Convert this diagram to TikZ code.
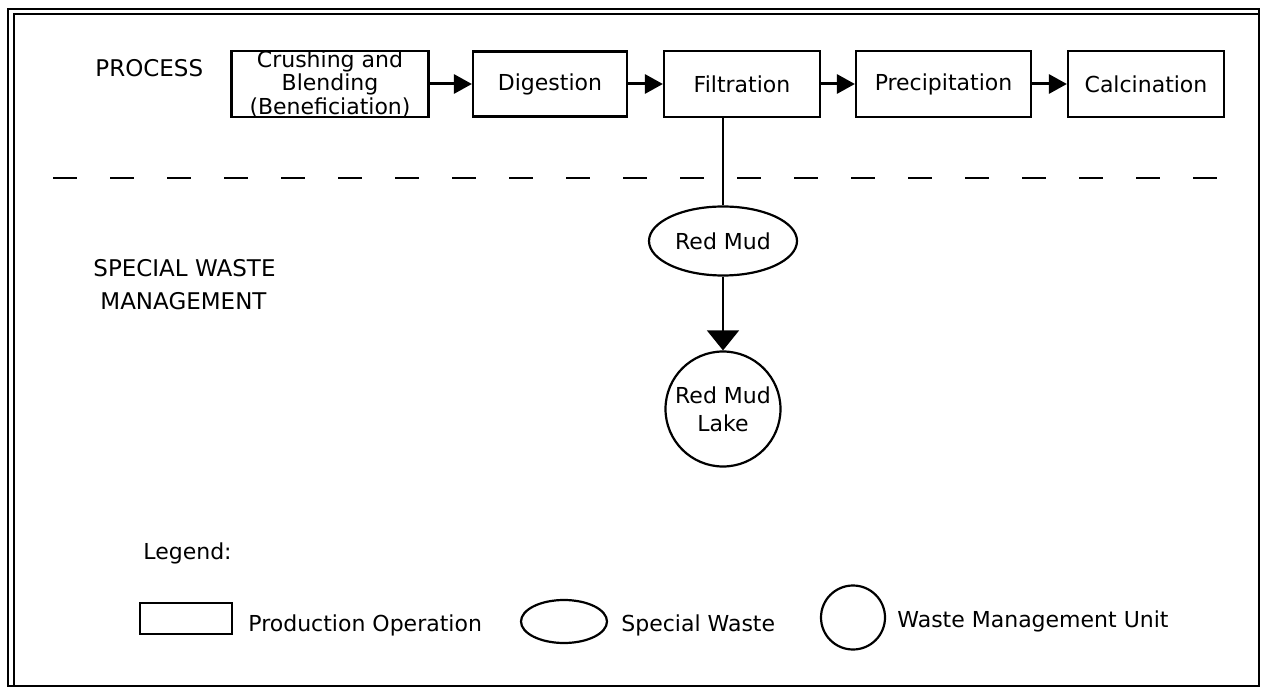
\documentclass[tikz,border=0pt]{standalone}
\usepackage{fontspec}
\setmainfont{DejaVu Sans}
\usetikzlibrary{arrows.meta,shapes.geometric}

\tikzset{
    opbox/.style={draw, line width=1.1pt, inner sep=0pt, align=center,
        font=\fontsize{11}{10.5}\selectfont},
    waste/.style={draw, ellipse, line width=1.1pt, inner sep=0pt,
        font=\fontsize{11}{13}\selectfont},
    unit/.style={draw, circle, line width=1.1pt, inner sep=0pt, align=center,
        font=\fontsize{11}{14}\selectfont},
    flow/.style={line width=1.5pt, -{Triangle[length=9pt,width=9.5pt]}},
    lbl/.style={inner sep=0pt, font=\fontsize{11}{13}\selectfont}
}

\begin{document}
\begin{tikzpicture}[x=0.5pt,y=-0.5pt]
                \useasboundingbox (0,0) rectangle (1263,689);
                % frame
                \draw[line width=0.9pt] (8,9) rectangle (1259,686);
                \draw[line width=0.7pt] (14,686) -- (14,14) -- (1259,14);

                % process row
                \node[lbl, anchor=west, font=\fontsize{11.5}{13}\selectfont]
                    (proc) at (95,68) {PROCESS};
                \node[opbox, minimum width=98.5pt, minimum height=32.5pt]
                    (crush) at (330,84) {Crushing and\\Blending\\(Beneficiation)};
                \node[opbox, minimum width=77pt, minimum height=32.5pt]
                    (dig) at (550,84) {Digestion};
                \node[opbox, minimum width=78pt, minimum height=33pt]
                    (filt) at (742,84) {Filtration};
                \node[opbox, minimum width=87.5pt, minimum height=33pt]
                    (prec) at (943.5,84) {Precipitation};
                \node[opbox, minimum width=78pt, minimum height=33pt]
                    (calc) at (1146,84) {Calcination};

                \draw[flow] (crush) -- (dig);
                \draw[flow] (dig) -- (filt);
                \draw[flow] (filt) -- (prec);
                \draw[flow] (prec) -- (calc);

                % separator
                \coordinate (sepL) at (53,178);
                \coordinate (sepR) at (1220,178);
                \draw[line width=1.4pt, dash pattern=on 12pt off 16.5pt] (sepL) -- (sepR);

                % special waste
                \node[lbl, anchor=north west, align=left, font=\fontsize{11.5}{16.5}\selectfont]
                    (swm) at (93,259) {SPECIAL WASTE\\\hspace{3.5pt}MANAGEMENT};
                \node[waste, minimum width=74pt, minimum height=34.5pt]
                    (mud) at (723,241) {Red Mud};
                \node[unit, minimum size=57.5pt]
                    (lake) at (723,409) {Red Mud\\Lake};

                \draw[line width=0.8pt] (filt.south -| mud.north) -- (mud.north);
                \draw[line width=0.8pt, -{Triangle[length=10pt,width=16pt]}] (mud) -- (lake);

                % legend
                \node[lbl, anchor=west] (leg) at (143,553) {Legend:};
                \node[draw, line width=1.1pt, minimum width=46pt, minimum height=15.5pt, inner sep=0pt]
                    (legbox) at (186,618.5) {};
                \node[lbl, anchor=west] (legboxtxt) at (248,625) {Production Operation};
                \node[waste, minimum width=43pt, minimum height=21.5pt]
                    (legwaste) at (564,621.5) {};
                \node[lbl, anchor=west] (legwastetxt) at (621,625) {Special Waste};
                \node[unit, minimum size=32pt]
                    (legunit) at (853,617.5) {};
                \node[lbl, anchor=west] (legunittxt) at (897,621) {Waste Management Unit};
            \end{tikzpicture}
\end{document}
